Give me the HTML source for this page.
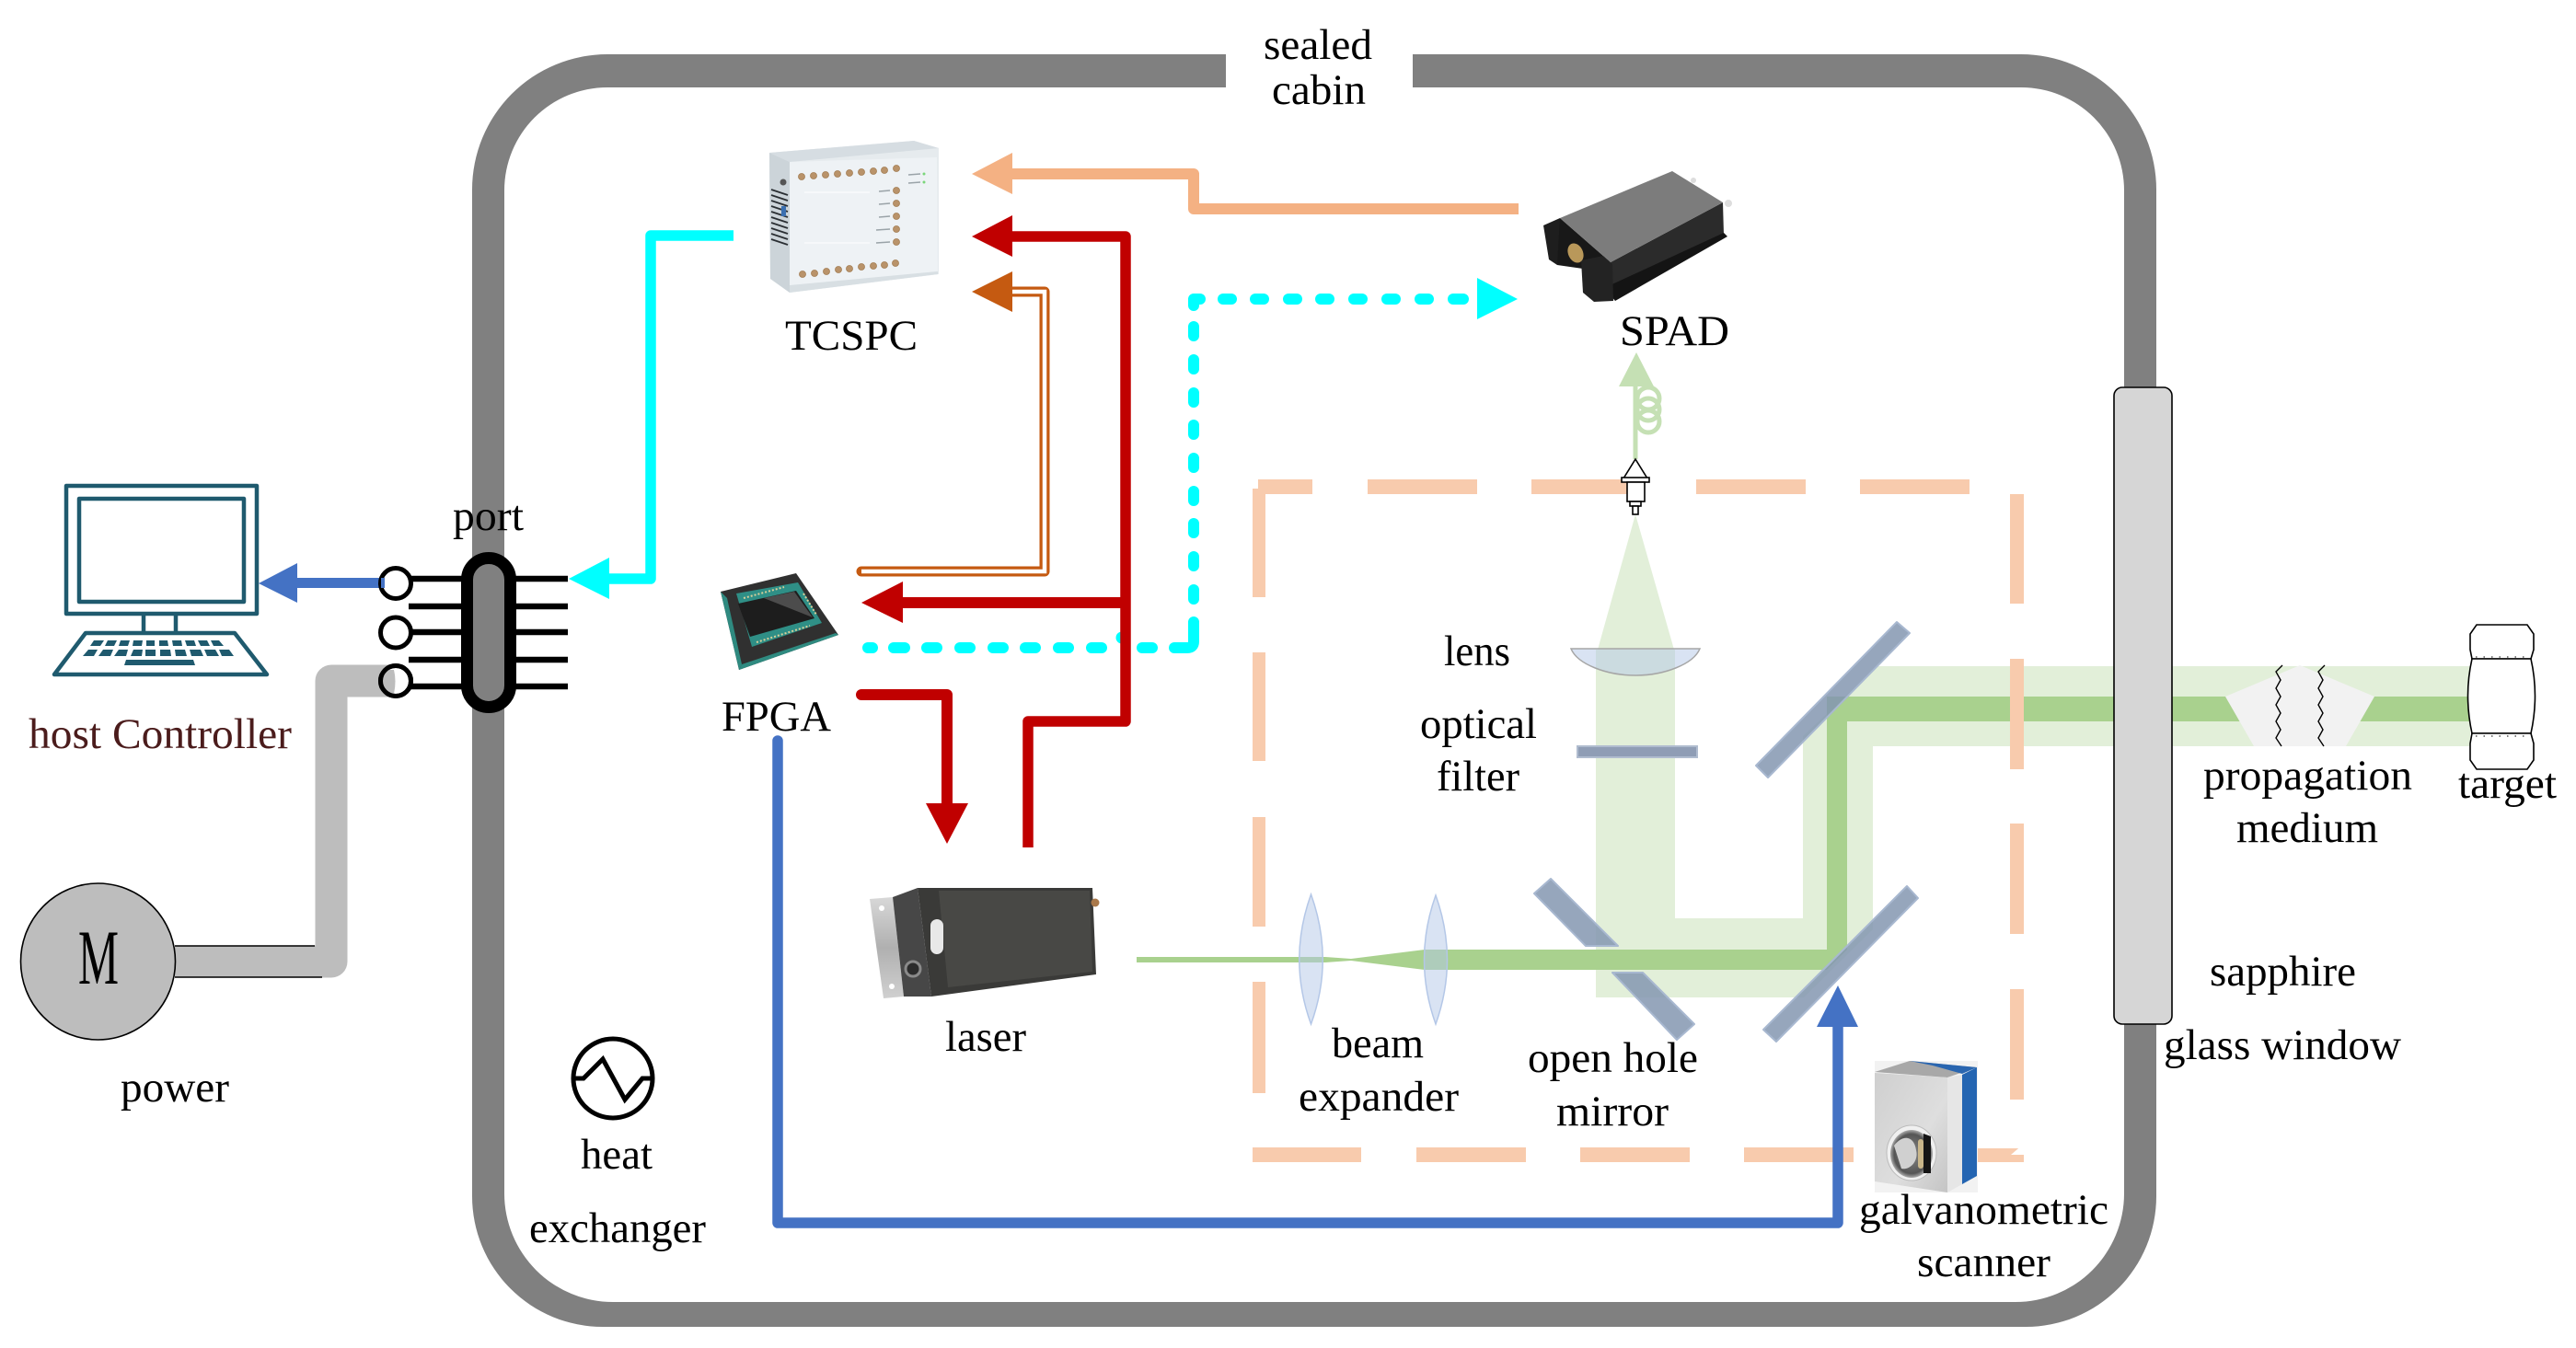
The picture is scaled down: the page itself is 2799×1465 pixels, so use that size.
<!DOCTYPE html>
<html>
<head>
<meta charset="utf-8">
<title>Diagram</title>
<style>
html,body{margin:0;padding:0;background:#fff;width:2799px;height:1465px;overflow:hidden}
svg{display:block}
text{font-family:"Liberation Serif",serif;font-size:47px;fill:#000}
</style>
</head>
<body>
<svg width="2799" height="1465" viewBox="0 0 2799 1465" xmlns="http://www.w3.org/2000/svg">
<defs>
<linearGradient id="plate" x1="0" y1="0" x2="0" y2="1"><stop offset="0" stop-color="#d8d8d8"/><stop offset=".5" stop-color="#b0b0b0"/><stop offset="1" stop-color="#d0d0d0"/></linearGradient>
<linearGradient id="galvo" x1="0" y1="0" x2="1" y2="1"><stop offset="0" stop-color="#cfcfcf"/><stop offset=".6" stop-color="#dedede"/><stop offset="1" stop-color="#c4c4c4"/></linearGradient>
<radialGradient id="hole" cx=".5" cy=".5" r=".55"><stop offset="0" stop-color="#8a8a8a"/><stop offset=".75" stop-color="#555"/><stop offset="1" stop-color="#ddd"/></radialGradient>
</defs>
<rect width="2799" height="1465" fill="#fff"/>

<!-- cabin wall -->
<path fill="#808080" fill-rule="evenodd" d="M660 59H2196A147 147 0 0 1 2343 206V1300A142 142 0 0 1 2201 1442H655A142 142 0 0 1 513 1300V206A147 147 0 0 1 660 59ZM660 95A112 112 0 0 0 548 207V1297A118 118 0 0 0 666 1415H2190A118 118 0 0 0 2308 1297V207A112 112 0 0 0 2196 95Z"/>
<rect x="1332" y="50" width="203" height="55" fill="#fff"/>

<!-- beams light -->
<path fill="#e2efd9" d="M1777 559L1819 706H1820V998H1959V800L2040 724H2684V811H2035V1010L1960 1084H1734V706H1736Z"/>
<!-- beams dark -->
<path fill="#a9d18e" d="M1235 1040H1440L1468 1042L1548 1032H1985V757H2684V784H2007V1032L1985 1054H1548L1468 1044L1440 1046H1235Z"/>

<!-- dashed enclosure -->
<g fill="#f8cbad">
<rect x="1367" y="521" width="59" height="16"/><rect x="1486" y="521" width="119" height="16"/><rect x="1664" y="521" width="118" height="16"/><rect x="1843" y="521" width="119" height="16"/><rect x="2021" y="521" width="119" height="16"/>
<rect x="1361" y="531" width="14" height="118"/><rect x="1361" y="709" width="14" height="118"/><rect x="1361" y="888" width="14" height="119"/><rect x="1361" y="1067" width="14" height="121"/>
<rect x="1361" y="1247" width="118" height="16"/><rect x="1539" y="1247" width="119" height="16"/><rect x="1717" y="1247" width="119" height="16"/><rect x="1895" y="1247" width="119" height="16"/><rect x="2090" y="1248" width="109" height="15"/>
<rect x="2184" y="537" width="15" height="119"/><rect x="2184" y="716" width="15" height="120"/><rect x="2184" y="895" width="15" height="120"/><rect x="2184" y="1075" width="15" height="120"/>
</g>
<path d="M2185 1255L2199 1243V1255Z" fill="#fff"/>

<!-- mirrors -->
<g fill="#8497b0" fill-opacity=".85" stroke="#a8b8d0" stroke-width="2" stroke-linejoin="round">
<path d="M1667 971L1685 955L1758 1028H1723Z"/>
<path d="M1752 1057H1785L1841 1113L1822 1130Z"/>
<path d="M1908 832L2061 676L2075 688L1921 845Z"/>
<path d="M1916 1119L2072 963L2084 976L1930 1132Z"/>
</g>

<!-- lenses & filter -->
<g fill="#b4c7e7" fill-opacity=".5" stroke="#b4c7e7" stroke-width="1.5">
<path d="M1424.5 972Q1450 1043 1424.5 1113Q1399 1043 1424.5 972Z"/>
<path d="M1560 973Q1585 1043 1560 1113Q1535 1043 1560 973Z"/>
<path d="M1707 705H1847C1840 722 1808 734 1777 734C1746 734 1714 722 1707 705Z" stroke="#a6a6a6"/>
</g>
<rect x="1714" y="811" width="130" height="12" fill="#8f9db5" stroke="#b0bccf" stroke-width="2"/>

<!-- fiber -->
<g stroke="#c5e0b4" stroke-width="5" fill="none">
<line x1="1777" y1="499" x2="1777" y2="419"/>
<ellipse cx="1791" cy="433" rx="12" ry="12"/>
<ellipse cx="1791" cy="445" rx="12" ry="12"/>
<ellipse cx="1791" cy="458" rx="12" ry="12"/>
</g>
<polygon points="1778,383 1797,420 1759,420" fill="#c5e0b4"/>
<!-- collimator -->
<g fill="#fff" stroke="#000" stroke-width="1.6">
<polygon points="1777,499 1790,520 1764,520"/>
<rect x="1762" y="519" width="30" height="5"/>
<rect x="1768" y="524" width="19" height="21"/>
<rect x="1771" y="545" width="12" height="5"/>
<rect x="1774" y="550" width="6" height="9"/>
</g>

<!-- sapphire window -->
<rect x="2297" y="421" width="63" height="692" rx="9" fill="#d6d6d6" stroke="#000" stroke-width="1.6"/>

<!-- propagation medium -->
<polygon points="2418,757 2499,723 2580,757 2549,811 2449,811" fill="#f2f2f2"/>
<g fill="none" stroke="#000" stroke-width="1.4">
<path d="M2480 723L2473 730L2478 739L2473 748L2478 757L2473 766L2478 775L2473 784L2478 793L2473 802L2479 811"/>
<path d="M2526 723L2519 730L2524 739L2519 748L2524 757L2519 766L2524 775L2519 784L2524 793L2519 802L2525 811"/>
</g>

<!-- target nut -->
<g fill="#fff" stroke="#000" stroke-width="1.6">
<path d="M2691 679H2746L2753 689V706L2750 716H2686L2684 706V689Z"/>
<path d="M2686 716H2750Q2759 756 2750 797H2686Q2677 756 2686 716Z"/>
<path d="M2686 797H2750L2753 808V826L2746 836H2691L2684 826V808Z"/>
</g>
<line x1="2690" y1="714" x2="2746" y2="714" stroke="#000" stroke-width="1" stroke-dasharray="1.500 7"/>
<line x1="2690" y1="800" x2="2746" y2="800" stroke="#000" stroke-width="1" stroke-dasharray="1.500 7"/>

<!-- connectors -->
<!-- orange -->
<path d="M1095 189H1297V227H1650" fill="none" stroke="#f4b183" stroke-width="12" stroke-linejoin="round"/>
<polygon points="1056,189 1100,166 1100,211" fill="#f4b183"/>
<!-- cyan dotted -->
<g fill="none" stroke="#00ffff" stroke-width="12" stroke-linecap="round" stroke-linejoin="round">
<path d="M943 704H948"/><path d="M971 704H983"/><path d="M1007 704H1018"/><path d="M1043 704H1054"/><path d="M1079 704H1090"/><path d="M1114 704H1125"/><path d="M1150 704H1161"/><path d="M1186 704H1197"/><path d="M1241 704H1252"/>
<path d="M1276 704H1290Q1297 704 1297 697V676"/>
<path d="M1297 641V651"/><path d="M1297 605V615"/><path d="M1297 569V579"/><path d="M1297 534V544"/><path d="M1297 498V508"/><path d="M1297 462V472"/><path d="M1297 427V437"/><path d="M1297 391V401"/><path d="M1297 355V365"/>
<path d="M1297 332V325H1304"/>
<path d="M1329 325H1338"/><path d="M1364 325H1373"/><path d="M1400 325H1409"/><path d="M1435 325H1444"/><path d="M1471 325H1480"/><path d="M1507 325H1516"/><path d="M1543 325H1552"/><path d="M1579 325H1590"/>
</g>
<circle cx="1219" cy="693" r="6.500" fill="#00ffff"/>
<polygon points="1649,325 1605,302 1605,347" fill="#00ffff"/>
<!-- brown double -->
<path d="M1095 317H1135V621H936" fill="none" stroke="#c55a11" stroke-width="11" stroke-linejoin="round" stroke-linecap="round"/>
<path d="M1100 317H1135V621H936" fill="none" stroke="#fff" stroke-width="4.500"/>
<polygon points="1056,317 1100,295 1100,339" fill="#c55a11"/>
<!-- red -->
<path d="M1095 257H1223V784H1117V921" fill="none" stroke="#c00000" stroke-width="11.500" stroke-linejoin="round"/>
<path d="M975 655H1223" fill="none" stroke="#c00000" stroke-width="12"/>
<polygon points="1056,257 1100,234 1100,279" fill="#c00000"/>
<polygon points="936,655 981,632 981,677" fill="#c00000"/>
<path d="M936 755H1029V880" fill="none" stroke="#c00000" stroke-width="12" stroke-linejoin="round" stroke-linecap="round"/>
<polygon points="1029,917 1006,873 1052,873" fill="#c00000"/>
<!-- blue -->
<path d="M845 805V1329H1997V1110" fill="none" stroke="#4472c4" stroke-width="11.500" stroke-linejoin="round" stroke-linecap="round"/>
<polygon points="1997,1071 2019,1116 1974,1116" fill="#4472c4"/>
<!-- cyan host -->
<path d="M797 256H707V629H655" fill="none" stroke="#00ffff" stroke-width="11.500" stroke-linejoin="round"/>
<polygon points="618,629 662,606 662,651" fill="#00ffff"/>
<!-- blue host -->
<rect x="320" y="628" width="98" height="11" fill="#4472c4"/>
<polygon points="281,634 323,612 323,655" fill="#4472c4"/>

<!-- gray power -->
<path d="M190 1045H360V740H428" fill="none" stroke="#bdbdbd" stroke-width="35" stroke-linejoin="round"/>
<line x1="190" y1="1028" x2="342" y2="1028" stroke="#000" stroke-width="1.400"/>
<line x1="190" y1="1062" x2="350" y2="1062" stroke="#000" stroke-width="1.400"/>
<ellipse cx="106.500" cy="1045" rx="84" ry="85" fill="#bdbdbd" stroke="#000" stroke-width="1.600"/>
<text x="85" y="1069" style="font-size:85px" textLength="44" lengthAdjust="spacingAndGlyphs">M</text>

<!-- port -->
<g stroke="#000" stroke-width="6.500">
<line x1="444" y1="629" x2="503" y2="629"/><line x1="444" y1="659" x2="503" y2="659"/><line x1="444" y1="687" x2="503" y2="687"/><line x1="444" y1="717" x2="503" y2="717"/><line x1="444" y1="746" x2="503" y2="746"/>
<line x1="560" y1="629" x2="617" y2="629"/><line x1="560" y1="659" x2="617" y2="659"/><line x1="560" y1="687" x2="617" y2="687"/><line x1="560" y1="717" x2="617" y2="717"/><line x1="560" y1="746" x2="617" y2="746"/>
</g>
<rect x="507.500" y="606.500" width="47" height="162" rx="23.500" fill="#808080" stroke="#000" stroke-width="13"/>
<circle cx="430" cy="634" r="16.500" fill="#fff" stroke="#000" stroke-width="5"/>
<rect x="414" y="628" width="4" height="11" fill="#4472c4"/>
<circle cx="430" cy="687.500" r="16.500" fill="#fff" stroke="#000" stroke-width="5"/>
<circle cx="430" cy="740" r="16.500" fill="#fff" stroke="#000" stroke-width="5"/>
<path d="M414 728H428Q431 740 428 754H414Q411 740 414 728Z" fill="#bdbdbd"/>
<circle cx="430" cy="740" r="16.500" fill="none" stroke="#000" stroke-width="5"/>

<!-- computer -->
<g fill="none" stroke="#1f5a6e" stroke-width="4.500" stroke-linejoin="round">
<rect x="72" y="528" width="207" height="139"/>
<rect x="86" y="542" width="179" height="112"/>
<line x1="156" y1="667" x2="156" y2="688"/><line x1="191" y1="667" x2="191" y2="688"/>
<polygon points="93,688 255,688 290,733 59,733"/>
</g>
<g fill="#1f5a6e">
<path d="M102 696H113L109 702H98Z"/><path d="M117 696H127L124 702H114Z"/><path d="M131 696H141L139 702H129Z"/><path d="M145 696H155L154 702H144Z"/><path d="M159 696H168V702H159Z"/><path d="M173 696H182L183 702H173Z"/><path d="M187 696H197L198 702H188Z"/><path d="M201 696H211L213 702H203Z"/><path d="M215 696H225L228 702H218Z"/><path d="M229 696H238L243 702H232Z"/>
<path d="M96 706H106L102 713H90Z"/><path d="M112 706H123L120 713H107Z"/><path d="M129 706H139L137 713H124Z"/><path d="M145 706H155L154 713H142Z"/><path d="M158 706H169V713H158Z"/><path d="M174 706H185L186 713H174Z"/><path d="M190 706H201L203 713H191Z"/><path d="M206 706H218L221 713H208Z"/><path d="M222 706H234L238 713H225Z"/><path d="M238 706H249L254 713H241Z"/>
<path d="M137 717H210L212 723H135Z"/>
</g>

<!-- TCSPC device -->
<polygon points="836,166 993,153 1020,161 1020,298 858,318 837,303" fill="#e6ebee"/>
<polygon points="836,166 993,153 1020,161 858,176" fill="#d6dde2"/>
<polygon points="836,166 858,176 858,318 837,303" fill="#ccd4d9"/>
<polygon points="858,176 1018,171 1019,298 858,318" fill="#eef2f5"/>
<polygon points="858,310 1019,295 1019,298 858,318" fill="#d8dfe3"/>
<g stroke="#2a2f33" stroke-width="1.800">
<line x1="838" y1="206" x2="856" y2="212"/><line x1="838" y1="212" x2="856" y2="218"/><line x1="838" y1="218" x2="856" y2="224"/><line x1="838" y1="224" x2="856" y2="230"/><line x1="838" y1="230" x2="856" y2="236"/><line x1="838" y1="236" x2="856" y2="242"/><line x1="838" y1="242" x2="856" y2="248"/><line x1="838" y1="248" x2="856" y2="254"/><line x1="838" y1="254" x2="856" y2="260"/><line x1="838" y1="260" x2="856" y2="266"/>
</g>
<circle cx="851" cy="198" r="3.500" fill="#555"/>
<rect x="849" y="224" width="5" height="11" fill="#3a6fb0"/>
<g fill="#b9936a" stroke="#a27c52" stroke-width=".8">
<circle cx="871" cy="192" r="3.500"/><circle cx="884" cy="191" r="3.500"/><circle cx="897" cy="190" r="3.500"/><circle cx="910" cy="189" r="3.500"/><circle cx="923" cy="188" r="3.500"/><circle cx="936" cy="187" r="3.500"/><circle cx="949" cy="186" r="3.500"/><circle cx="961" cy="185" r="3.500"/><circle cx="974" cy="183" r="3.500"/>
<circle cx="974" cy="207" r="3.500"/><circle cx="974" cy="221" r="3.500"/><circle cx="974" cy="235" r="3.500"/><circle cx="974" cy="249" r="3.500"/><circle cx="974" cy="263" r="3.500"/>
<circle cx="872" cy="298" r="3.500"/><circle cx="885" cy="297" r="3.500"/><circle cx="898" cy="295" r="3.500"/><circle cx="911" cy="293" r="3.500"/><circle cx="923" cy="292" r="3.500"/><circle cx="936" cy="290" r="3.500"/><circle cx="949" cy="289" r="3.500"/><circle cx="961" cy="288" r="3.500"/><circle cx="973" cy="286" r="3.500"/>
</g>
<line x1="874" y1="209" x2="945" y2="209" stroke="#fff" stroke-width="1"/>
<line x1="874" y1="264" x2="945" y2="264" stroke="#fff" stroke-width="1"/>
<g stroke="#9aa3a8" stroke-width="1.500">
<line x1="955" y1="208" x2="967" y2="207"/><line x1="955" y1="222" x2="967" y2="221"/><line x1="955" y1="236" x2="967" y2="235"/><line x1="952" y1="250" x2="967" y2="249"/><line x1="952" y1="264" x2="967" y2="263"/>
<line x1="987" y1="190" x2="1000" y2="189"/><line x1="987" y1="199" x2="1000" y2="198"/>
</g>
<circle cx="1004" cy="189" r="1.500" fill="#7ad67a"/><circle cx="1004" cy="198" r="1.500" fill="#7ad67a"/>

<!-- FPGA chip -->
<polygon points="783,643 865,623 911,690 803,728" fill="#303030"/>
<polygon points="783,643 803,728 806,722 790,650" fill="#2f8a80"/>
<polygon points="803,728 911,690 908,688 806,722" fill="#2f8a80"/>
<polygon points="800,645 867,633 893,677 817,703" fill="#2f8f86"/>
<polygon points="802,656 865,642 885,672 815,692" fill="#1d1d1d"/>
<polygon points="830,650 863,643 883,671" fill="#4c4c4c"/>
<g fill="none" stroke="#d8cf9a" stroke-width="2" stroke-dasharray="2 2">
<line x1="808" y1="650" x2="852" y2="638"/>
<line x1="822" y1="698" x2="880" y2="680"/>
<line x1="873" y1="645" x2="887" y2="668"/>
</g>

<!-- SPAD -->
<polygon points="1677,245 1695,237 1705,250 1692,288 1683,282" fill="#1e1e1e"/>
<polygon points="1695,237 1750,285 1720,292 1692,288" fill="#181818"/>
<polygon points="1750,285 1872,220 1873,255 1753,317" fill="#2b2b2b"/>
<polygon points="1743,313 1873,253 1877,257 1755,327" fill="#141414"/>
<polygon points="1718,283 1742,278 1752,287 1753,327 1732,328 1720,318" fill="#232323"/>
<polygon points="1695,237 1817,186 1872,220 1750,285" fill="#7c7c7c"/>
<ellipse cx="1712" cy="275" rx="8" ry="11" fill="#b9985a" transform="rotate(-25 1712 275)"/>
<circle cx="1840" cy="196" r="3" fill="#ddd"/><circle cx="1878" cy="221" r="4" fill="#ddd"/>

<!-- laser -->
<polygon points="945,977 970,975 982,1083 960,1085" fill="url(#plate)"/>
<polygon points="970,975 997,965 1012,1083 982,1083" fill="#474747"/>
<polygon points="997,965 1187,965 1191,1059 1012,1083" fill="#3a3a38"/>
<polygon points="1020,968 1184,968 1187,1056 1030,1073" fill="#484845"/>
<rect x="1011" y="999" width="14" height="38" rx="7" fill="#e8e8e8"/>
<circle cx="992" cy="1053" r="8" fill="#2c2c2c" stroke="#8a8a8a" stroke-width="3"/>
<circle cx="958" cy="987" r="3" fill="#fff"/><circle cx="969" cy="1072" r="3" fill="#fff"/>
<circle cx="1190" cy="981" r="4.500" fill="#a9784a"/>

<!-- galvanometric scanner -->
<rect x="2037" y="1153" width="112" height="143" fill="#f2f2f2"/>
<polygon points="2037,1165 2075,1153 2148,1160 2116,1171" fill="#a8a8a8"/>
<polygon points="2075,1153 2148,1160 2132,1167 2100,1158" fill="#2a66b0"/>
<polygon points="2037,1166 2116,1171 2116,1296 2037,1284" fill="url(#galvo)"/>
<polygon points="2116,1171 2132,1168 2132,1287 2116,1296" fill="#e6e6e6"/>
<polygon points="2132,1168 2148,1160 2148,1278 2132,1287" fill="#2465b2"/>
<ellipse cx="2077" cy="1253" rx="27" ry="30" fill="#f0f0f0" stroke="#bbb" stroke-width="1"/>
<ellipse cx="2077" cy="1254" rx="23" ry="26" fill="url(#hole)"/>
<path d="M2090 1232V1275H2098V1235Z" fill="#151515"/>
<path d="M2058 1245C2068 1232 2080 1235 2082 1250C2085 1262 2075 1272 2066 1270Z" fill="#d0d0d0"/>
<rect x="2084" y="1238" width="6" height="32" rx="3" fill="#c9b68a"/>

<!-- heat exchanger -->
<circle cx="666" cy="1172" r="43" fill="#fff" stroke="#000" stroke-width="5"/>
<polyline points="623,1172 634,1172 655,1151 679,1195 698,1172 710,1172" fill="none" stroke="#000" stroke-width="5"/>

<!-- labels -->
<text x="1373" y="64" textLength="118" lengthAdjust="spacingAndGlyphs">sealed</text>
<text x="1382" y="113" textLength="102" lengthAdjust="spacingAndGlyphs">cabin</text>
<text x="853" y="380" textLength="144" lengthAdjust="spacingAndGlyphs">TCSPC</text>
<text x="1760" y="375" textLength="119" lengthAdjust="spacingAndGlyphs">SPAD</text>
<text x="492" y="576" textLength="77" lengthAdjust="spacingAndGlyphs">port</text>
<text x="784" y="794" textLength="119" lengthAdjust="spacingAndGlyphs">FPGA</text>
<text x="31" y="813" textLength="286" lengthAdjust="spacingAndGlyphs" style="fill:#4b1c1c">host Controller</text>
<text x="131" y="1197" textLength="118" lengthAdjust="spacingAndGlyphs">power</text>
<text x="1027" y="1142" textLength="88" lengthAdjust="spacingAndGlyphs">laser</text>
<text x="631" y="1270" textLength="78" lengthAdjust="spacingAndGlyphs">heat</text>
<text x="575" y="1350" textLength="192" lengthAdjust="spacingAndGlyphs">exchanger</text>
<text x="1569" y="723" textLength="72" lengthAdjust="spacingAndGlyphs">lens</text>
<text x="1543" y="802" textLength="127" lengthAdjust="spacingAndGlyphs">optical</text>
<text x="1561" y="859" textLength="90" lengthAdjust="spacingAndGlyphs">filter</text>
<text x="1447" y="1149" textLength="100" lengthAdjust="spacingAndGlyphs">beam</text>
<text x="1411" y="1207" textLength="174" lengthAdjust="spacingAndGlyphs">expander</text>
<text x="1660" y="1165" textLength="185" lengthAdjust="spacingAndGlyphs">open hole</text>
<text x="1691" y="1223" textLength="122" lengthAdjust="spacingAndGlyphs">mirror</text>
<text x="2020" y="1330" textLength="271" lengthAdjust="spacingAndGlyphs">galvanometric</text>
<text x="2083" y="1387" textLength="145" lengthAdjust="spacingAndGlyphs">scanner</text>
<text x="2394" y="858" textLength="227" lengthAdjust="spacingAndGlyphs">propagation</text>
<text x="2430" y="915" textLength="154" lengthAdjust="spacingAndGlyphs">medium</text>
<text x="2671" y="867" textLength="107" lengthAdjust="spacingAndGlyphs">target</text>
<text x="2401" y="1071" textLength="159" lengthAdjust="spacingAndGlyphs">sapphire</text>
<text x="2351" y="1151" textLength="258" lengthAdjust="spacingAndGlyphs">glass window</text>
</svg>
</body>
</html>
